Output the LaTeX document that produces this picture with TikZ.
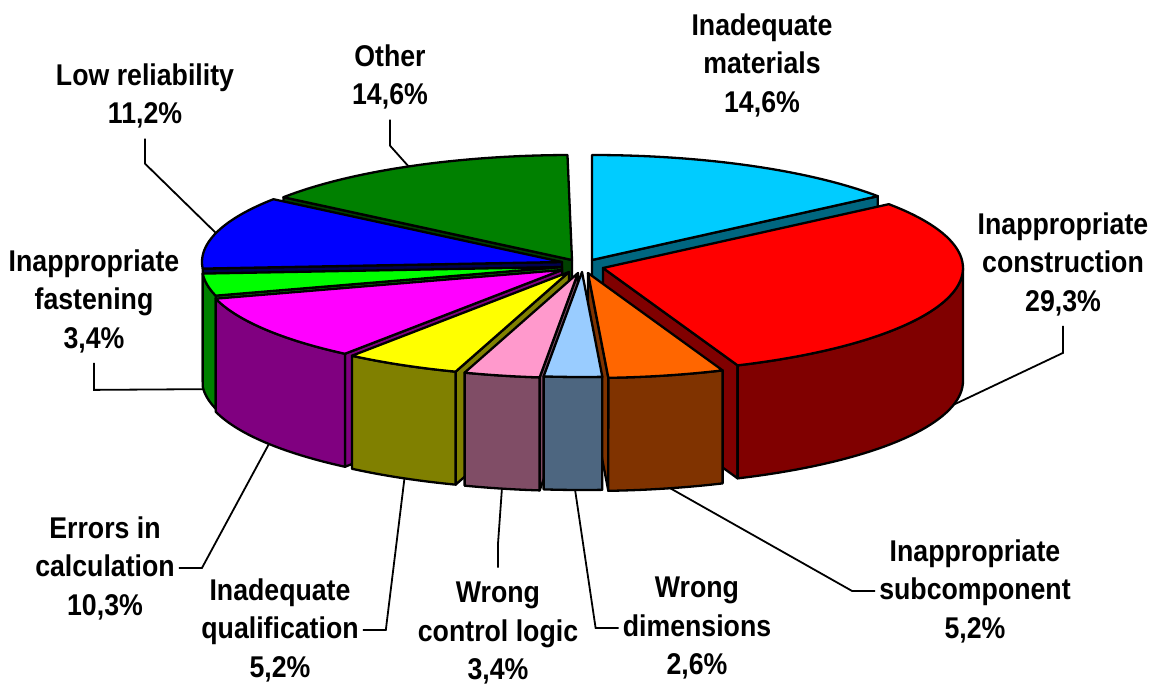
\documentclass[tikz,border=0pt]{standalone}
\usepackage{fontspec}
\setmainfont{Liberation Sans}[FakeStretch=0.89]
\usetikzlibrary{calc}
\definecolor{cyanT}{HTML}{00CCFF}\definecolor{cyanS}{HTML}{006680}
\definecolor{redT}{HTML}{FF0000}\definecolor{redS}{HTML}{800000}
\definecolor{oraT}{HTML}{FF6600}\definecolor{oraS}{HTML}{803300}
\definecolor{lbT}{HTML}{99CCFF}\definecolor{lbS}{HTML}{4D6680}
\definecolor{pinkT}{HTML}{FF99CC}\definecolor{pinkS}{HTML}{804D66}
\definecolor{yelT}{HTML}{FFFF00}\definecolor{yelS}{HTML}{808000}
\definecolor{magT}{HTML}{FF00FF}\definecolor{magS}{HTML}{800080}
\definecolor{limT}{HTML}{00FF00}\definecolor{limS}{HTML}{008000}
\definecolor{bluT}{HTML}{0000FF}\definecolor{bluS}{HTML}{000050}
\definecolor{grnT}{HTML}{008000}\definecolor{grnS}{HTML}{004000}
\newcommand\pieA{360}
\newcommand\pieB{105}
\newcommand\pieD{113}
% #1 apex x, #2 apex y, #3 start angle, #4 end angle (clockwise from top), #5 top colour, #6 side colour
\newcommand\pieslice[6]{%
  \pgfmathsetmacro\slo{max(#3,90)}%
  \pgfmathsetmacro\shi{min(#4,270)}%
  \pgfmathsetmacro\sspan{\shi-\slo}%
  \ifdim #3pt>180pt
    \filldraw[pieline,fill=#6] (#1,#2) -- ({#1+\pieA*sin(#3)},{#2-\pieB*cos(#3)})
      -- ({#1+\pieA*sin(#3)},{#2+\pieD-\pieB*cos(#3)}) -- (#1,#2+\pieD) -- cycle;
  \fi
  \ifdim #4pt<180pt
    \filldraw[pieline,fill=#6] (#1,#2) -- ({#1+\pieA*sin(#4)},{#2-\pieB*cos(#4)})
      -- ({#1+\pieA*sin(#4)},{#2+\pieD-\pieB*cos(#4)}) -- (#1,#2+\pieD) -- cycle;
  \fi
  \ifdim \sspan pt>5pt
    \filldraw[pieline,fill=#6] plot[domain=\slo:\shi,samples=40] ({#1+\pieA*sin(\x)},{#2-\pieB*cos(\x)})
      -- plot[domain=\shi:\slo,samples=40] ({#1+\pieA*sin(\x)},{#2+\pieD-\pieB*cos(\x)}) -- cycle;
  \fi
  \filldraw[pieline,fill=#5] (#1,#2) -- plot[domain=#3:#4,samples=60] ({#1+\pieA*sin(\x)},{#2-\pieB*cos(\x)}) -- cycle;
}
\begin{document}
\begin{tikzpicture}[x=1pt,y=-1pt,
  pieline/.style={draw=black,line width=2.3pt,line join=round},
  lbl/.style={font=\fontsize{30}{38.5}\selectfont\bfseries,align=center,inner sep=0pt},
  leader/.style={draw=black,line width=1.8pt,line join=miter}]
\useasboundingbox (0,0) rectangle (1152,687);
% slices, back to front
\pieslice{592}{260}{0}{52.56}{cyanT}{cyanS}
\pieslice{572}{260}{306.72}{359.28}{grnT}{grnS}
\pieslice{562}{262}{266.4}{306.72}{bluT}{bluS}
\pieslice{562}{267}{254.16}{266.4}{limT}{limS}
\pieslice{603}{268}{52.56}{158.04}{redT}{redS}
\pieslice{562}{270}{217.08}{254.16}{magT}{magS}
\pieslice{569}{272}{198.36}{217.08}{yelT}{yelS}
\pieslice{588}{273}{158.04}{176.76}{oraT}{oraS}
\pieslice{578}{273}{186.12}{198.36}{pinkT}{pinkS}
\pieslice{582}{272}{176.76}{186.12}{lbT}{lbS}
% leader anchor points on the pie
\coordinate (pOth) at ({572+360*sin(333)},{260-105*cos(333)});
\coordinate (pLow) at ({562+360*sin(286)},{262-105*cos(286)});
\coordinate (pFas) at ({562+360*sin(265)},{267+113-105*cos(265)});
\coordinate (pCon) at ({603+360*sin(103)},{268+113-105*cos(103)});
\coordinate (pErr) at ({562+360*sin(234.5)},{270+113-105*cos(234.5)});
\coordinate (pQua) at ({569+360*sin(207.2)},{272+113-105*cos(207.2)});
\coordinate (pCtl) at ({578+360*sin(192.2)},{273+113-105*cos(192.2)});
\coordinate (pDim) at ({582+360*sin(181.1)},{272+113-105*cos(181.1)});
\coordinate (pSub) at ({588+360*sin(166.8)},{273+113-105*cos(166.8)});
% labels
\node[lbl] (mat) at (762,65) {Inadequate\\materials\\14,6\%};
\node[lbl] (oth) at (390,77) {Other\\14,6\%};
\node[lbl] (low) at (145,96) {Low reliability\\11,2\%};
\node[lbl] (con) at (1063,264) {Inappropriate\\construction\\29,3\%};
\node[lbl] (fas) at (94,301) {Inappropriate\\fastening\\3,4\%};
\node[lbl] (err) at (105,568) {Errors in\\calculation\\10,3\%};
\node[lbl] (qua) at (280,630) {Inadequate\\qualification\\5,2\%};
\node[lbl] (ctl) at (498,633) {Wrong\\control logic\\3,4\%};
\node[lbl] (dim) at (697,628) {Wrong\\dimensions\\2,6\%};
\node[lbl] (sub) at (975,591) {Inappropriate\\subcomponent\\5,2\%};
% leader lines
\draw[leader,shorten <=10pt] (oth.south) -- ++(0,36) -- (pOth);
\draw[leader,shorten <=10pt] (low.south) -- ++(0,35) -- (pLow);
\draw[leader,shorten <=10pt] (fas.south) -- ++(0,37) -- (pFas);
\draw[leader,shorten <=10pt] (con.south) -- ++(0,37) -- (pCon);
\draw[leader,shorten <=4pt] (err.east) -- ++(27,0) -- (pErr);
\draw[leader,shorten <=4pt] (qua.east) -- ++(27,0) -- (pQua);
\draw[leader,shorten <=14pt] (ctl.north) -- ++(0,-38) -- (pCtl);
\draw[leader,shorten <=4pt] (dim.west) -- ++(-27,0) -- (pDim);
\draw[leader,shorten <=4pt] (sub.west) -- ++(-27,0) -- (pSub);
\end{tikzpicture}
\end{document}
